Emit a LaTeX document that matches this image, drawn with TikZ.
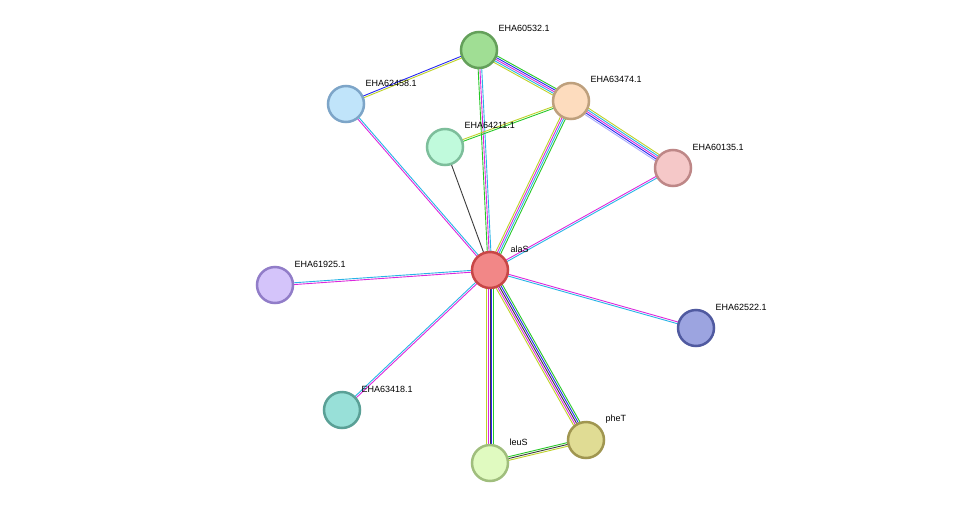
\documentclass[tikz,border=0pt]{standalone}
\usepackage{fontspec}
\setmainfont{Liberation Sans}
\usetikzlibrary{calc,backgrounds}

\definecolor{cNb}{RGB}{40,200,40}
\definecolor{cCo}{RGB}{40,40,240}
\definecolor{cEx}{RGB}{220,40,220}
\definecolor{cDb}{RGB}{40,180,230}
\definecolor{cTm}{RGB}{190,210,40}
\definecolor{cCx}{RGB}{60,60,60}
\definecolor{cHo}{RGB}{170,170,250}

\tikzset{
  prot/.style={circle, minimum size=36pt, inner sep=0pt, line width=2.5pt},
  plabel/.style={font=\fontsize{9pt}{10pt}\selectfont, anchor=west}
}

% parallel STRING edge: from, to, count, colours
\newcommand\stredge[4]{%
  \foreach \c [count=\i] in {#4} {
    \pgfmathsetmacro\o{(\i-(#3+1)/2)*1.8}
    \draw[\c, line width=0.9pt] ($(#1)!\o pt!90:(#2)$) -- ($(#2)!\o pt!-90:(#1)$);
  }}

\begin{document}
\begin{tikzpicture}[x=1pt,y=-1pt]
\useasboundingbox (0,0) rectangle (975,509);

\node[prot, fill={rgb,255:red,242;green,135;blue,135}, draw={rgb,255:red,200;green,70;blue,70}] (alaS) at (490,270) {};
\node[prot, fill={rgb,255:red,160;green,222;blue,148}, draw={rgb,255:red,100;green,160;blue,90}] (e60532) at (479,50) {};
\node[prot, fill={rgb,255:red,253;green,220;blue,190}, draw={rgb,255:red,190;green,160;blue,125}] (e63474) at (571,101) {};
\node[prot, fill={rgb,255:red,245;green,200;blue,200}, draw={rgb,255:red,190;green,135;blue,135}] (e60135) at (673,168) {};
\node[prot, fill={rgb,255:red,192;green,228;blue,250}, draw={rgb,255:red,125;green,165;blue,200}] (e62458) at (346,104) {};
\node[prot, fill={rgb,255:red,192;green,250;blue,220}, draw={rgb,255:red,125;green,190;blue,155}] (e64211) at (445,147) {};
\node[prot, fill={rgb,255:red,212;green,196;blue,250}, draw={rgb,255:red,145;green,125;blue,200}] (e61925) at (275,285) {};
\node[prot, fill={rgb,255:red,156;green,164;blue,224}, draw={rgb,255:red,80;green,90;blue,160}] (e62522) at (696,328) {};
\node[prot, fill={rgb,255:red,152;green,224;blue,216}, draw={rgb,255:red,90;green,160;blue,150}] (e63418) at (342,410) {};
\node[prot, fill={rgb,255:red,224;green,250;blue,192}, draw={rgb,255:red,160;green,190;blue,125}] (leuS) at (490,463) {};
\node[prot, fill={rgb,255:red,224;green,220;blue,148}, draw={rgb,255:red,160;green,150;blue,80}] (pheT) at (586,440) {};

\node[plabel] at ($(alaS)+(17,-21)$) {alaS};
\node[plabel] at ($(e60532)+(16,-22)$) {EHA60532.1};
\node[plabel] at ($(e63474)+(16,-22)$) {EHA63474.1};
\node[plabel] at ($(e60135)+(16,-21)$) {EHA60135.1};
\node[plabel] at ($(e62458)+(16,-21)$) {EHA62458.1};
\node[plabel] at ($(e64211)+(16,-22)$) {EHA64211.1};
\node[plabel] at ($(e61925)+(16,-21)$) {EHA61925.1};
\node[plabel] at ($(e62522)+(16,-21)$) {EHA62522.1};
\node[plabel] at ($(e63418)+(16,-21)$) {EHA63418.1};
\node[plabel] at ($(leuS)+(16,-21)$) {leuS};
\node[plabel] at ($(pheT)+(16,-21)$) {pheT};

\begin{pgfonlayer}{background}
  \stredge{e60532}{e62458}{2}{cCo,cTm}
  \stredge{e60532}{e63474}{5}{cTm,cDb,cEx,cCo,cNb}
  \stredge{e60532}{alaS}{3}{cNb,cEx,cDb}
  \stredge{e63474}{e64211}{2}{cTm,cNb}
  \stredge{e63474}{e60135}{5}{cHo,cCo,cEx,cDb,cTm}
  \stredge{e63474}{alaS}{4}{cTm,cEx,cDb,cNb}
  \stredge{e64211}{alaS}{1}{cCx}
  \stredge{e62458}{alaS}{2}{cEx,cDb}
  \stredge{e60135}{alaS}{2}{cEx,cDb}
  \stredge{e61925}{alaS}{2}{cEx,cDb}
  \stredge{e62522}{alaS}{2}{cEx,cDb}
  \stredge{e63418}{alaS}{2}{cEx,cDb}
  \stredge{leuS}{alaS}{5}{cNb,cCo,cCx,cEx,cTm}
  \stredge{pheT}{alaS}{5}{cNb,cCo,cCx,cEx,cTm}
  \stredge{leuS}{pheT}{3}{cTm,cCx,cNb}
\end{pgfonlayer}
\end{tikzpicture}
\end{document}
